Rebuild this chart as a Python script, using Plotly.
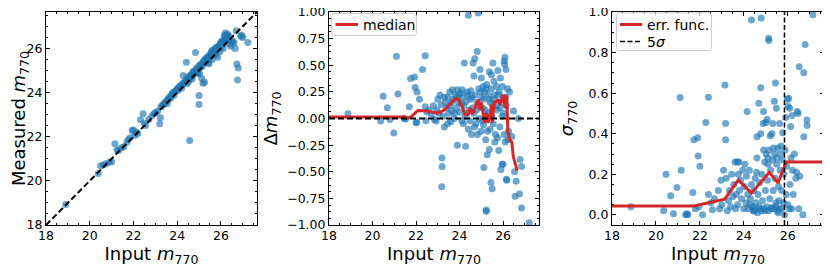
import plotly.graph_objects as go

# ---------------- data ----------------
# Panel 1: input vs measured magnitude
p1_input = [18.9, 20.39, 20.5, 20.62, 20.74, 20.9, 21.0, 21.15, 21.25, 21.32, 21.45, 21.56, 21.7, 21.76,
            21.85, 21.94, 22.0, 22.06, 22.14, 22.2, 22.32, 22.44, 22.5, 22.55, 22.7, 22.85, 22.95, 23.02,
            23.1, 23.2, 23.23, 23.25, 23.3, 23.38, 23.45, 23.5, 23.55, 23.6, 23.65, 23.7, 23.75, 23.8,
            23.85, 23.9, 23.95, 24.0, 24.05, 24.1, 24.15, 24.2, 24.25, 24.27, 24.3, 24.35, 24.4, 24.42,
            24.45, 24.5, 24.55, 24.57, 24.6, 24.65, 24.7, 24.75, 24.8, 24.84, 24.85, 24.9, 24.95, 25.0,
            25.0, 25.0, 25.05, 25.1, 25.12, 25.15, 25.18, 25.2, 25.25, 25.25, 25.3, 25.35, 25.4, 25.45,
            25.5, 25.55, 25.6, 25.65, 25.7, 25.75, 25.8, 25.85, 25.9, 25.95, 26.0, 26.05, 26.1, 26.15,
            26.2, 26.25, 26.3, 26.35, 26.4, 26.45, 26.5, 26.6, 26.7, 26.73, 26.76, 26.79, 26.9, 27.0,
            27.23, 23.4, 23.58, 23.72, 23.88, 24.02, 24.12, 24.22, 24.38, 24.48, 24.62, 24.72, 24.78,
            24.88, 24.92, 24.98, 25.08, 25.22, 25.28, 25.32, 25.38, 25.42, 25.48, 25.52, 25.58, 25.62,
            25.68, 25.72, 25.78, 25.82, 25.88, 25.92, 25.98, 26.02, 26.08, 26.12, 26.18, 26.22, 26.28,
            26.32, 26.38, 26.55, 26.65, 26.95, 24.52, 24.68, 25.02, 25.45, 25.58, 25.75, 26.0, 26.25]
p1_measured = [18.93, 20.33, 20.68, 20.72, 20.78, 20.84, 20.86, 21.68, 21.4, 21.38, 21.5, 21.55, 21.75, 21.86,
               21.95, 22.28, 22.3, 22.06, 22.2, 22.15, 22.77, 23.04, 22.6, 22.51, 22.78, 22.95, 23.05, 23.1,
               23.15, 22.59, 22.86, 23.35, 23.4, 23.45, 23.55, 23.62, 23.5, 23.7, 23.8, 23.75, 23.92, 24.0,
               23.88, 24.05, 24.1, 24.15, 24.1, 24.25, 24.3, 24.2, 24.4, 24.77, 24.45, 24.45, 24.5, 25.37,
               24.4, 24.6, 24.7, 21.83, 24.65, 24.8, 24.75, 24.9, 24.95, 25.82, 25.0, 25.05, 24.9, 23.46,
               23.87, 25.1, 25.25, 25.3, 24.65, 25.2, 24.42, 25.4, 25.35, 24.47, 25.5, 25.45, 25.6, 25.3,
               25.65, 25.75, 25.5, 25.8, 25.9, 25.7, 26.0, 25.6, 26.1, 25.85, 26.2, 26.3, 26.0, 26.6,
               26.7, 26.55, 26.65, 26.4, 26.2, 26.1, 26.3, 26.25, 26.8, 25.29, 24.57, 25.11, 26.55, 26.5,
               26.27, 23.5, 23.72, 23.85, 24.02, 24.2, 24.3, 24.32, 24.55, 24.7, 24.8, 24.95, 24.85,
               25.1, 24.9, 25.2, 25.15, 25.45, 25.4, 25.55, 25.6, 25.35, 25.7, 25.6, 25.85, 25.7,
               25.95, 25.8, 26.05, 25.9, 26.1, 26.05, 26.25, 26.3, 26.35, 26.2, 26.5, 26.4, 26.6,
               26.45, 26.55, 26.35, 26.0, 26.6, 24.5, 24.6, 24.85, 25.5, 25.9, 25.95, 26.1, 26.45]
identity_line = [18.0, 27.65]

# Panel 2: magnitude offset vs input magnitude
p2_input = [18.87, 20.37, 20.49, 20.68, 20.8, 20.98, 21.1, 21.17, 21.45, 21.52, 21.69, 21.75, 21.93, 21.96,
            22.0, 22.03, 22.05, 22.16, 22.3, 22.42, 22.42, 22.45, 22.5, 22.6, 22.7, 22.8, 22.85, 22.92,
            22.95, 23.0, 23.05, 23.1, 23.15, 23.18, 23.19, 23.2, 23.25, 23.3, 23.35, 23.4, 23.45, 23.5,
            23.55, 23.6, 23.65, 23.68, 23.7, 23.75, 23.8, 23.85, 23.9, 23.9, 23.95, 24.0, 24.05, 24.1,
            24.15, 24.2, 24.22, 24.25, 24.28, 24.3, 24.35, 24.4, 24.4, 24.45, 24.5, 24.55, 24.6, 24.62,
            24.66, 24.7, 24.72, 24.75, 24.8, 24.81, 24.85, 24.88, 24.9, 24.94, 24.98, 25.0, 25.02, 25.05,
            25.08, 25.1, 25.12, 25.15, 25.2, 25.22, 25.23, 25.25, 25.27, 25.3, 25.35, 25.37, 25.37, 25.4,
            25.44, 25.45, 25.46, 25.5, 25.52, 25.53, 25.55, 25.58, 25.6, 25.65, 25.7, 25.72, 25.76, 25.8,
            25.82, 25.85, 25.88, 25.9, 25.92, 25.95, 25.97, 26.0, 26.02, 26.05, 26.07, 26.09, 26.1, 26.12,
            26.13, 26.15, 26.17, 26.2, 26.25, 26.3, 26.4, 26.48, 26.53, 26.55, 26.6, 26.7, 26.75, 26.78,
            26.85, 26.85, 27.2, 23.3, 23.45, 23.55, 23.62, 23.78, 23.88, 23.98, 24.08, 24.12, 24.18,
            24.32, 24.38, 24.48, 24.52, 24.58, 24.65, 24.68, 24.78, 24.82, 24.92, 24.96, 25.05, 25.1,
            25.18, 25.22, 25.28, 25.32, 25.42, 25.48, 25.58, 25.62, 25.68, 25.75, 25.78, 25.86, 25.95,
            26.0, 26.05, 26.15, 26.22]
p2_delta = [0.045, -0.024, 0.21, 0.10, -0.01, -0.135, 0.585, 0.23, 0.0, -0.005, 0.11, 0.375, 0.39, 0.29,
            -0.04, -0.035, 0.25, 0.18, 0.46, 0.59, 0.11, -0.02, 0.06, 0.08, 0.04, 0.12, -0.01, -0.024,
            0.08, 0.18, 0.05, 0.22, 0.13, -0.64, -0.37, -0.45, 0.02, -0.08, 0.15, 0.1, 0.2, 0.05,
            0.12, -0.03, 0.07, 0.27, 0.18, 0.0, 0.22, 0.1, 0.27, -0.25, 0.15, 0.06, 0.24, -0.02,
            0.2, 0.12, 0.52, 0.02, -0.26, 0.16, 0.25, 0.97, -0.1, 0.08, 0.18, -0.15, 0.1, 0.52,
            0.4, 0.56, 0.22, -0.05, 0.15, 0.63, 0.99, 0.28, 0.0, 0.46, -0.12, 0.38, 0.2, 0.1,
            0.3, -0.06, -0.46, 0.25, -0.2, -0.87, -0.86, 0.32, -0.34, 0.05, 0.18, 0.44, -0.29, -0.1,
            -0.6, 0.28, 0.41, -0.66, 0.12, 0.52, -0.05, 0.35, 0.22, -0.15, 0.3, 0.08, 0.45, -0.3,
            0.25, -0.08, 0.38, -0.48, 0.15, -0.43, 0.3, -0.43, 0.05, 0.54, 0.51, 0.575, -0.22, 0.2,
            0.46, -0.57, -0.58, 0.28, -0.12, 0.25, -0.17, 0.07, -0.5, -0.73, -0.59, 0.0, -0.71, -0.385,
            -0.45, -0.84, -0.98, 0.2, -0.05, 0.25, 0.15, 0.05, 0.2, 0.22, 0.14, 0.27, -0.05,
            0.05, 0.22, -0.02, 0.26, 0.2, 0.05, -0.08, 0.08, -0.15, 0.12, 0.25, -0.02, 0.18,
            0.08, 0.28, -0.12, 0.22, 0.15, 0.02, 0.18, -0.22, 0.12, -0.18, 0.22, 0.1, 0.02,
            0.2, -0.15, 0.12, -0.2]
median_input = [18.0, 21.5, 21.6, 21.8, 22.0, 22.1, 22.5, 23.0, 23.3, 23.65, 23.8, 23.95, 24.1, 24.25,
                24.4, 24.48, 24.6, 24.8, 24.88, 24.94, 25.0, 25.1, 25.16, 25.24, 25.31, 25.39, 25.47,
                25.5, 25.59, 25.7, 25.78, 25.85, 25.93, 26.0, 26.05, 26.1, 26.13, 26.17, 26.22, 26.3,
                26.4, 26.47, 26.65]
median_delta = [0.015, 0.015, 0.0, 0.02, 0.06, 0.075, 0.07, 0.05, 0.08, 0.15, 0.185, 0.18, 0.12, 0.04,
                0.04, 0.1, 0.04, 0.15, 0.18, 0.08, 0.15, 0.02, -0.04, 0.05, -0.04, 0.02, 0.13,
                -0.04, 0.15, 0.16, 0.18, 0.13, 0.18, 0.22, 0.16, 0.1, 0.22, 0.18, -0.12, -0.2,
                -0.22, -0.36, -0.49]
zero_line_x = [18.0, 27.65]
zero_line_y = [0.0, 0.0]

# Panel 3: magnitude error vs input magnitude
p3_input = [18.86, 20.35, 20.46, 20.67, 20.8, 20.96, 21.1, 21.15, 21.35, 21.4, 21.45, 21.68, 21.73, 21.8,
            21.9, 21.92, 21.95, 22.0, 22.12, 22.27, 22.39, 22.39, 22.5, 22.57, 22.66, 22.84, 22.9, 22.96,
            23.0, 23.08, 23.14, 23.17, 23.17, 23.2, 23.25, 23.3, 23.35, 23.4, 23.45, 23.5, 23.55, 23.6,
            23.62, 23.65, 23.7, 23.72, 23.75, 23.78, 23.8, 23.85, 23.9, 23.95, 24.0, 24.02, 24.05, 24.1,
            24.12, 24.15, 24.18, 24.2, 24.25, 24.3, 24.35, 24.35, 24.4, 24.42, 24.45, 24.5, 24.52, 24.55,
            24.58, 24.6, 24.62, 24.65, 24.68, 24.7, 24.72, 24.77, 24.77, 24.79, 24.8, 24.82, 24.85, 24.88,
            24.9, 24.92, 24.95, 24.98, 25.0, 25.02, 25.05, 25.06, 25.08, 25.1, 25.12, 25.13, 25.14, 25.15,
            25.18, 25.2, 25.22, 25.25, 25.28, 25.3, 25.32, 25.34, 25.36, 25.39, 25.4, 25.42, 25.44, 25.46,
            25.48, 25.5, 25.52, 25.55, 25.58, 25.6, 25.63, 25.65, 25.68, 25.7, 25.72, 25.75, 25.77, 25.8,
            25.82, 25.85, 25.88, 25.91, 25.93, 25.95, 25.98, 26.0, 26.01, 26.04, 26.07, 26.09, 26.1, 26.13,
            26.15, 26.18, 26.2, 26.22, 26.25, 26.3, 26.37, 26.4, 26.43, 26.47, 26.5, 26.52, 26.55, 26.69,
            26.73, 26.73, 26.79, 26.87, 26.88, 27.14, 24.28, 24.48, 24.75, 24.97, 25.27, 25.44, 25.57,
            25.62, 24.6, 24.9, 25.1, 25.35, 25.5, 25.7]
p3_sigma = [0.04, 0.02, 0.20, 0.094, 0.005, 0.135, 0.578, 0.22, 0.0, 0.005, 0.0, 0.11, 0.37, 0.03,
            0.38, 0.29, 0.04, 0.24, 0.0, 0.455, 0.58, 0.1, 0.06, 0.025, 0.08, 0.12, 0.03, 0.17,
            0.05, 0.22, 0.64, 0.45, 0.37, 0.18, 0.02, 0.07, 0.12, 0.04, 0.2, 0.09, 0.15, 0.26,
            0.03, 0.1, 0.26, 0.05, 0.2, 0.26, 0.12, 0.17, 0.08, 0.22, 0.03, 0.14, 0.25, 0.06,
            0.19, 0.51, 0.1, 0.03, 0.22, 0.08, 0.96, 0.15, 0.04, 0.02, 0.12, 0.03, 0.18, 0.06,
            0.21, 0.385, 0.01, 0.1, 0.55, 0.04, 0.16, 0.627, 0.4, 0.97, 0.02, 0.2, 0.07, 0.45,
            0.51, 0.03, 0.26, 0.12, 0.455, 0.3, 0.04, 0.47, 0.17, 0.28, 0.02, 0.87, 0.86, 0.32,
            0.08, 0.39, 0.22, 0.03, 0.4, 0.27, 0.45, 0.12, 0.03, 0.56, 0.3, 0.18, 0.65, 0.06,
            0.525, 0.25, 0.02, 0.33, 0.14, 0.07, 0.45, 0.22, 0.3, 0.03, 0.12, 0.27, 0.405, 0.06,
            0.2, 0.0, 0.32, 0.48, 0.1, 0.24, 0.57, 0.05, 0.535, 0.575, 0.03, 0.525, 0.15, 0.435,
            0.28, 0.03, 0.49, 0.22, 0.1, 0.3, 0.18, 0.21, 0.51, 0.5, 0.03, 0.73, 0.19, 0.0,
            0.7, 0.385, 0.84, 0.468, 0.44, 0.987, 0.05, 0.02, 0.03, 0.02, 0.035, 0.04, 0.01,
            0.03, 0.28, 0.32, 0.25, 0.33, 0.28, 0.34]
errfunc_input = [18.0, 21.74, 23.13, 23.75, 24.35, 25.16, 25.56, 25.92, 27.65]
errfunc_sigma = [0.044, 0.044, 0.077, 0.172, 0.107, 0.21, 0.157, 0.26, 0.26]
limit_5sigma = 25.85
limit_line_y = [-0.05, 1.0]

x_range = [18.0, 27.65]

# legend texts
legend1_labels = ["median"]
legend2_labels = ["err. func.", "5<i>σ</i>"]

# ---------------- styles ----------------
FONT = "DejaVu Sans"
BLUE = "rgba(31,119,180,0.65)"
RED = "#d62728"
# the page body has an 8px margin: the figure is sized to fit the 830x268 window
OFF = 8
W, H = 830 - OFF, 268 - OFF


def px(x):
    """window pixel x -> paper fraction"""
    return (x - OFF) / W


def py(y):
    """window pixel y -> paper fraction"""
    return (H - (y - OFF)) / H


def xd(a, b):
    return [px(a), px(b)]


Y_DOM = [py(225), py(12)]

fig = go.Figure()

mk = dict(color=BLUE, size=7, line=dict(width=0))

# panel 1
fig.add_trace(go.Scatter(x=p1_input, y=p1_measured, mode="markers", marker=mk,
                         xaxis="x", yaxis="y", showlegend=False))
fig.add_trace(go.Scatter(x=identity_line, y=identity_line, mode="lines",
                         line=dict(color="black", width=2, dash="6px,3px"),
                         xaxis="x", yaxis="y", showlegend=False))

# panel 2
fig.add_trace(go.Scatter(x=p2_input, y=p2_delta, mode="markers", marker=mk,
                         xaxis="x2", yaxis="y2", showlegend=False))
fig.add_trace(go.Scatter(x=median_input, y=median_delta, mode="lines", name="median",
                         line=dict(color=RED, width=3), xaxis="x2", yaxis="y2",
                         showlegend=False))
fig.add_trace(go.Scatter(x=zero_line_x, y=zero_line_y, mode="lines",
                         line=dict(color="black", width=2, dash="6px,3px"),
                         xaxis="x2", yaxis="y2", showlegend=False))

# panel 3
fig.add_trace(go.Scatter(x=p3_input, y=p3_sigma, mode="markers", marker=mk,
                         xaxis="x3", yaxis="y3", showlegend=False))
fig.add_trace(go.Scatter(x=errfunc_input, y=errfunc_sigma, mode="lines", name="err. func.",
                         line=dict(color=RED, width=3), xaxis="x3", yaxis="y3",
                         showlegend=False))
fig.add_trace(go.Scatter(x=[limit_5sigma, limit_5sigma], y=limit_line_y, mode="lines",
                         name="5σ", line=dict(color="black", width=1.5, dash="5px,2.5px"),
                         xaxis="x3", yaxis="y3", showlegend=False))

tickfont = dict(family=FONT, size=12.5, color="black")
titlefont = dict(family=FONT, size=18, color="black")


def axis_common():
    return dict(showline=True, linecolor="black", linewidth=1, mirror="allticks",
                ticks="inside", ticklen=4, tickwidth=1, tickcolor="black",
                showgrid=False, zeroline=False, tickfont=tickfont, automargin=False,
                ticklabeloverflow="allow")


def minor(dt, t0):
    return dict(ticks="inside", ticklen=2, dtick=dt, tick0=t0, tickcolor="black")


xtitle = "Input <i>m</i><sub>770</sub>"

# ----- manual legends (boxes, samples and texts) -----
shapes = []
annotations = []


def rounded_box(x0, y0, x1, y1, r=3):
    p = (f"M {px(x0 + r)},{py(y0)} L {px(x1 - r)},{py(y0)} "
         f"Q {px(x1)},{py(y0)} {px(x1)},{py(y0 + r)} L {px(x1)},{py(y1 - r)} "
         f"Q {px(x1)},{py(y1)} {px(x1 - r)},{py(y1)} L {px(x0 + r)},{py(y1)} "
         f"Q {px(x0)},{py(y1)} {px(x0)},{py(y1 - r)} L {px(x0)},{py(y0 + r)} "
         f"Q {px(x0)},{py(y0)} {px(x0 + r)},{py(y0)} Z")
    return dict(type="path", xref="paper", yref="paper", path=p,
                line=dict(color="#cccccc", width=1), fillcolor="rgba(255,255,255,0.8)",
                layer="above")


def sample(x0, x1, y, color, width, dash="solid"):
    return dict(type="line", xref="paper", yref="paper", x0=px(x0), x1=px(x1), y0=py(y), y1=py(y),
                line=dict(color=color, width=width, dash=dash), layer="above")


legfont = dict(family=FONT, size=14, color="black")

# legend of panel 2
shapes.append(rounded_box(331.5, 13.5, 416.5, 35.5))
shapes.append(sample(335.5, 358, 24.5, RED, 3))
annotations.append(dict(x=px(361), y=py(24.5), xref="paper", yref="paper", text=legend1_labels[0],
                        showarrow=False, xanchor="left", yanchor="middle", font=legfont))

# legend of panel 3
shapes.append(rounded_box(616.5, 13, 711.5, 50.5))
shapes.append(sample(620, 642, 24.5, RED, 3))
shapes.append(sample(620, 642, 41.5, "black", 1.5, "5px,2.5px"))
annotations.append(dict(x=px(645), y=py(24.5), xref="paper", yref="paper", text=legend2_labels[0],
                        showarrow=False, xanchor="left", yanchor="middle", font=legfont))
annotations.append(dict(x=px(645), y=py(41.5), xref="paper", yref="paper", text=legend2_labels[1],
                        showarrow=False, xanchor="left", yanchor="middle", font=legfont))

layout = dict(
    width=W, height=H, margin=dict(l=0, r=0, t=0, b=0, autoexpand=False),
    paper_bgcolor="white", plot_bgcolor="white",
    font=dict(family=FONT, color="black"),
    showlegend=False,
    xaxis=dict(domain=xd(46, 257), range=x_range, anchor="y", dtick=2, tick0=18,
               minor=minor(0.5, 18), ticklabelstandoff=-1,
               title=dict(text=xtitle, font=titlefont, standoff=0), **axis_common()),
    yaxis=dict(domain=Y_DOM, range=x_range, anchor="x", dtick=2, tick0=18,
               minor=minor(0.5, 18),
               title=dict(text="Measured <i>m</i><sub>770</sub>", font=titlefont, standoff=3),
               **axis_common()),
    xaxis2=dict(domain=xd(329, 539), range=x_range, anchor="y2", dtick=2, tick0=18,
                minor=minor(0.5, 18), ticklabelstandoff=-1,
                title=dict(text=xtitle, font=titlefont, standoff=0), **axis_common()),
    yaxis2=dict(domain=Y_DOM, range=[-1, 1], anchor="x2", dtick=0.25, tick0=0, tickformat=".2f",
                minor=minor(0.0625, 0),
                title=dict(text="Δ<i>m</i><sub>770</sub>", font=titlefont, standoff=4),
                **axis_common()),
    xaxis3=dict(domain=xd(612, 824), range=x_range, anchor="y3", dtick=2, tick0=18,
                minor=minor(0.5, 18), ticklabelstandoff=-1,
                title=dict(text=xtitle, font=titlefont, standoff=0), **axis_common()),
    yaxis3=dict(domain=Y_DOM, range=[-0.05, 1.0], anchor="x3", dtick=0.2, tick0=0, tickformat=".1f",
                minor=minor(0.05, 0),
                title=dict(text="<i>σ</i><sub>770</sub>", font=titlefont, standoff=10),
                **axis_common()),
    shapes=shapes,
    annotations=annotations,
)
fig.update_layout(**layout)

fig.write_html("out.html")
